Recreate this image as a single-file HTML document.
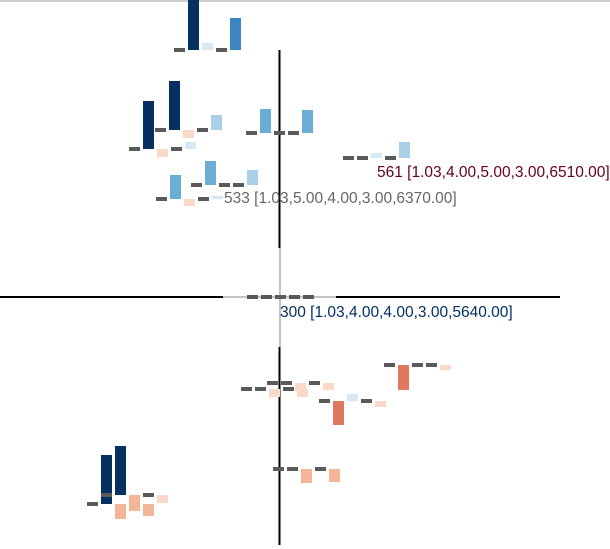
<!DOCTYPE html>
<html><head><meta charset="utf-8"><style>
html,body{margin:0;padding:0;background:#fff;width:610px;height:549px;overflow:hidden;font-family:"Liberation Sans",sans-serif}
svg{display:block}
</style></head><body>
<svg id="chart" width="610" height="549" xmlns="http://www.w3.org/2000/svg">
<line x1="0" y1="1" x2="610" y2="1" stroke="#cfcfcf" stroke-width="2"/>
<g>
<line x1="0" y1="297" x2="223" y2="297" stroke="#000" stroke-width="2"/>
<line x1="223" y1="297" x2="336" y2="297" stroke="#888" stroke-width="1"/>
<line x1="336" y1="297" x2="560" y2="297" stroke="#000" stroke-width="2"/>
<line x1="279.5" y1="50" x2="279.5" y2="248" stroke="#000" stroke-width="2"/>
<line x1="280" y1="248" x2="280" y2="347" stroke="#888" stroke-width="1"/>
<line x1="279.5" y1="347" x2="279.5" y2="545" stroke="#000" stroke-width="2"/>
</g>
<g id="glyphs"></g>
<text x="224" y="203" font-size="15.5" fill="#666">533 [1.03,5.00,4.00,3.00,6370.00]</text>
<text x="377" y="177" font-size="15.5" fill="#67001f">561 [1.03,4.00,5.00,3.00,6510.00]</text>
<text x="280" y="317" font-size="15.5" fill="#053061">300 [1.03,4.00,4.00,3.00,5640.00]</text>
</svg>
<script>
const glyphIds = ["g1","g2","g3","g4","g5","g6","g7","g8","g9a","g9b","g10","g11","g12a","g12b","g13"];
const glyphX = [174,129,155,246,156,191,343,247,241,267,319,384,87,101,273];
const glyphY = [50,149,130,133,199,185,158,297,389,383,401,365,504,495,469];
const glyphValues = [
 [0,52,7,0,32],
 [0,48,-8,0,7],
 [0,49,-8,0,15],
 [0,24,0,0,23],
 [0,24,-7,0,3],
 [0,24,0,0,15],
 [0,0,5,0,16],
 [0,0,0,0,0],
 [0,0,-8,0,-8],
 [0,0,-8,0,-7],
 [0,-24,7,0,-6],
 [0,-25,0,0,-5],
 [0,49,-15,0,-12],
 [0,49,-16,0,-8],
 [0,0,-14,0,-13]
];
const slotStep=14, barW=11;
function colorFor(v){
  if(v>=45) return "#053061";
  if(v>=28) return "#3d85c0";
  if(v>=20) return "#6aaed6";
  if(v>=12) return "#a9d0e6";
  if(v>0) return "#d6e8f3";
  if(v<=-20) return "#e0775f";
  if(v<=-12) return "#f4b498";
  return "#fbd9c8";
}
const NS="http://www.w3.org/2000/svg";
const root=document.getElementById("glyphs");
glyphIds.forEach((id,gi)=>{
  const g=document.createElementNS(NS,"g");
  
  
  glyphValues[gi].forEach((v,si)=>{
    const x=glyphX[gi]+si*slotStep, y=glyphY[gi];
    const r=document.createElementNS(NS,"rect");
    
    
    r.setAttribute("x",x);r.setAttribute("width",barW);
    if(v===0){r.setAttribute("y",y-2);r.setAttribute("height",4);r.setAttribute("fill","#5a5a5a");}
    else if(v>0){r.setAttribute("y",y-v);r.setAttribute("height",v);r.setAttribute("fill",colorFor(v));}
    else{r.setAttribute("y",y);r.setAttribute("height",-v);r.setAttribute("fill",colorFor(v));}
    g.appendChild(r);
  });
  root.appendChild(g);
});
</script>
</body></html>
